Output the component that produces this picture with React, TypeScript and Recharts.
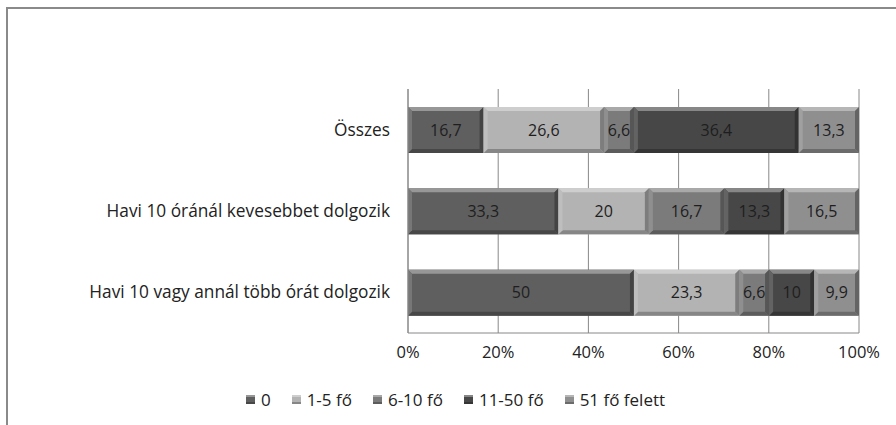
import React from 'react';
import { BarChart, Bar, XAxis, YAxis, CartesianGrid, Legend, LabelList } from 'recharts';

const categories = [
  'Összes',
  'Havi 10 óránál kevesebbet dolgozik',
  'Havi 10 vagy annál több órát dolgozik',
];
const seriesNames = ['0', '1-5 fő', '6-10 fő', '11-50 fő', '51 fő felett'];
const v0 = [16.7, 33.3, 50];
const v15 = [26.6, 20, 23.3];
const v610 = [6.6, 16.7, 6.6];
const v1150 = [36.4, 13.3, 10];
const v51 = [13.3, 16.5, 9.9];
const xTicks = [0, 0.2, 0.4, 0.6, 0.8, 1];

const seriesValues = [v0, v15, v610, v1150, v51];
const keys = ['s0', 's1', 's2', 's3', 's4'];
const colors = ['#5f5f5f', '#b3b3b3', '#7b7b7b', '#474747', '#8f8f8f'];

const data = categories.map((c, i) => {
  const row: Record<string, string | number> = { name: c };
  keys.forEach((k, j) => {
    row[k] = seriesValues[j][i];
  });
  return row;
});

const FONT = '"Open Sans", "DejaVu Sans", sans-serif';

function mix(hex: string, target: number, amt: number) {
  const n = parseInt(hex.slice(1), 16);
  const r = (n >> 16) & 255, g = (n >> 8) & 255, b = n & 255;
  const m = (v: number) => Math.round(v + (target - v) * amt);
  return `rgb(${m(r)},${m(g)},${m(b)})`;
}

const BevelBar = (props: any) => {
  const { x, y, width, height, fill } = props;
  if (!width || !height || width <= 0) return null;
  const b = Math.min(4, width / 3, height / 3);
  const top = mix(fill, 255, 0.35);
  const left = mix(fill, 255, 0.15);
  const bottom = mix(fill, 0, 0.25);
  const right = mix(fill, 0, 0.3);
  const x2 = x + width, y2 = y + height;
  return (
    <g>
      <rect x={x} y={y} width={width} height={height} fill={fill} />
      <polygon points={`${x},${y} ${x2},${y} ${x2 - b},${y + b} ${x + b},${y + b}`} fill={top} />
      <polygon points={`${x},${y2} ${x2},${y2} ${x2 - b},${y2 - b} ${x + b},${y2 - b}`} fill={bottom} />
      <polygon points={`${x},${y} ${x + b},${y + b} ${x + b},${y2 - b} ${x},${y2}`} fill={left} />
      <polygon points={`${x2},${y} ${x2 - b},${y + b} ${x2 - b},${y2 - b} ${x2},${y2}`} fill={right} />
    </g>
  );
};

const LegendContent = () => (
  <div style={{ display: 'flex', justifyContent: 'center', fontFamily: FONT, fontSize: 17, color: '#222', marginLeft: 52 }}>
    {seriesNames.map((n, i) => (
      <div key={n} style={{ display: 'flex', alignItems: 'center', marginRight: i < seriesNames.length - 1 ? 21 : 0 }}>
        <svg width={9} height={9} style={{ marginRight: 6 }}>
          <rect x={0} y={0} width={9} height={9} fill={colors[i]} />
          <rect x={0} y={0} width={9} height={2} fill={mix(colors[i], 255, 0.35)} />
          <rect x={0} y={7} width={9} height={2} fill={mix(colors[i], 0, 0.25)} />
        </svg>
        <span>{n}</span>
      </div>
    ))}
  </div>
);

const fmt = (v: any) => String(v).replace('.', ',');

export default function App() {
  return (
    <div style={{ position: 'absolute', left: 0, top: 0, width: 896, height: 425, background: '#fff' }}>
      <div
        style={{
          position: 'absolute',
          left: 6,
          top: 7,
          width: 890,
          height: 418,
          borderTop: '2px solid #8a8a8a',
          borderLeft: '2px solid #8a8a8a',
          boxSizing: 'border-box',
        }}
      />
      <div style={{ position: 'absolute', left: 0, top: 0 }}>
        <BarChart
          width={896}
          height={425}
          data={data}
          layout="vertical"
          stackOffset="expand"
          barSize={46}
          margin={{ top: 89, right: 37, bottom: 13, left: 0 }}
        >
          <CartesianGrid horizontal={false} stroke="#888" strokeWidth={1} />
          <XAxis
            type="number"
            domain={[0, 1]}
            ticks={xTicks}
            tickFormatter={(v: number) => `${Math.round(v * 100)}%`}
            tickSize={0}
            tickMargin={13}
            height={55}
            axisLine={{ stroke: '#888' }}
            tick={{ fontFamily: FONT, fontSize: 16.5, fill: '#222' }}
            interval={0}
          />
          <YAxis
            type="category"
            dataKey="name"
            width={408}
            tickSize={0}
            tickMargin={18}
            axisLine={{ stroke: '#888' }}
            tick={{ fontFamily: FONT, fontSize: 17.3, fill: '#222' }}
            interval={0}
          />
          <Legend verticalAlign="bottom" height={24} content={<LegendContent />} />
          {keys.map((k, i) => (
            <Bar key={k} dataKey={k} name={seriesNames[i]} stackId="a" fill={colors[i]} shape={<BevelBar />} isAnimationActive={false}>
              <LabelList dataKey={k} position="center" formatter={fmt} style={{ fontFamily: FONT, fontSize: 16, fill: '#1e1e1e' }} />
            </Bar>
          ))}
        </BarChart>
      </div>
    </div>
  );
}
